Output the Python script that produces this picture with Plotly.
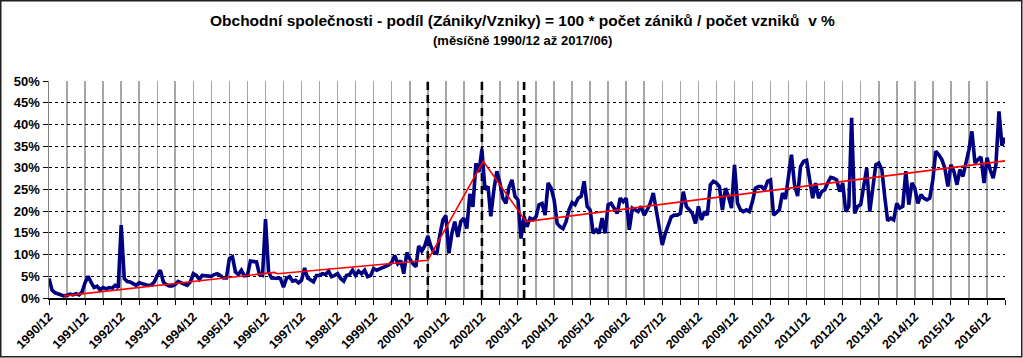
import pandas as pd
import plotly.graph_objects as go

# ---- data -------------------------------------------------------------
start_month = "1990-12-01"
n_months = 319  # 1990/12 .. 2017/06

podil = [
    4.5, 1.8, 1.2, 1.0, 0.9, 0.5, 0.6, 0.9, 0.7, 1.0, 0.7, 1.4,
    3.5, 5.0, 3.6, 2.4, 2.7, 1.9, 2.4, 2.1, 2.4, 2.3, 2.9, 2.4,
    16.8, 4.5, 3.8, 3.7, 3.3, 2.9, 3.5, 3.3, 3.0, 2.9, 3.0, 3.7,
    5.2, 6.4, 3.7, 3.1, 2.8, 2.8, 3.1, 3.8, 3.5, 3.1, 2.9, 3.7,
    5.6, 5.2, 4.3, 5.2, 5.2, 5.0, 5.0, 5.4, 5.6, 5.2, 4.6, 4.6,
    9.1, 9.5, 6.0, 5.4, 6.4, 5.1, 5.2, 8.5, 8.5, 8.3, 5.4, 5.2,
    18.2, 6.0, 4.6, 4.6, 4.5, 4.5, 2.5, 4.5, 4.9, 3.9, 4.1, 3.5,
    4.1, 6.9, 4.6, 4.1, 3.7, 5.2, 5.2, 5.6, 5.4, 6.2, 4.9, 5.2,
    5.6, 4.5, 3.9, 5.2, 5.4, 6.4, 5.2, 6.2, 5.6, 6.4, 4.9, 5.2,
    6.8, 6.4, 6.8, 7.0, 7.3, 7.6, 8.2, 9.8, 7.9, 8.6, 5.6, 10.5,
    9.0, 7.9, 7.2, 12.0, 10.8, 12.0, 14.3, 12.0, 10.5, 10.3, 14.5, 18.0,
    19.0, 10.3, 15.0, 17.6, 14.1, 17.6, 18.4, 16.0, 24.0, 21.0, 31.0, 29.0,
    34.2, 25.0, 25.7, 18.8, 24.9, 29.2, 26.5, 23.0, 21.8, 25.5, 27.2, 23.4,
    22.6, 13.7, 18.7, 16.4, 18.4, 18.0, 18.7, 21.5, 21.8, 19.1, 26.5, 25.3,
    22.6, 17.2, 16.4, 16.0, 17.6, 20.3, 22.0, 21.5, 23.0, 23.4, 26.9, 21.1,
    20.3, 14.9, 15.7, 14.9, 18.4, 14.9, 21.5, 21.8, 20.7, 19.5, 23.0, 22.2,
    23.0, 15.7, 20.7, 20.3, 19.9, 21.1, 19.1, 20.3, 21.8, 24.2, 20.3, 16.4,
    12.2, 14.9, 17.2, 18.7, 19.1, 19.1, 19.5, 24.5, 21.1, 20.3, 19.5, 17.2,
    21.1, 18.0, 19.9, 19.1, 26.1, 26.9, 26.5, 25.7, 20.3, 25.3, 23.4, 20.7,
    30.7, 21.8, 20.3, 19.9, 20.3, 19.9, 22.2, 25.3, 25.7, 25.7, 24.9, 26.9,
    27.2, 19.1, 19.7, 20.3, 24.2, 22.8, 28.0, 33.0, 26.1, 23.5, 30.3, 31.5,
    31.7, 27.2, 23.0, 26.5, 23.0, 24.5, 24.9, 26.5, 27.8, 27.6, 27.2, 24.5,
    26.5, 19.9, 21.1, 41.5, 19.5, 21.1, 21.5, 25.7, 29.9, 19.9, 25.7, 30.7,
    31.1, 29.6, 23.0, 17.8, 18.4, 18.0, 21.8, 20.7, 21.1, 29.2, 21.5, 26.5,
    25.3, 21.8, 23.8, 23.0, 22.6, 23.0, 27.2, 33.8, 33.0, 31.9, 29.9, 25.7,
    30.7, 29.2, 26.1, 29.6, 28.0, 31.1, 34.2, 38.4, 31.1, 31.9, 32.5, 26.5,
    32.3, 29.6, 27.6, 30.7, 43.0, 35.1, 36.9,
]

trend_dates = ["1991-05-01", "1997-03-01", "1997-04-01", "2001-06-01",
               "2002-12-15", "2004-02-20", "2017-06-01"]
trend_values = [0.5, 5.9, 5.6, 8.7, 31.5, 17.6, 31.6]

break_dates = ["2001-06-01", "2002-12-01", "2004-02-01"]

y_ticks = list(range(0, 51, 5))

title_text = ("Obchodní společnosti - podíl (Zániky/Vzniky) = 100 * počet zániků / "
              "počet vzniků&nbsp;&nbsp;v %")
subtitle_text = "(měsíčně 1990/12 až 2017/06)"

# ---- figure -----------------------------------------------------------
months = pd.date_range(start_month, periods=n_months, freq="MS")

W, H = 1023, 358
ML, MR, MT, MB = 49, 18, 81, 60
PW, PH = W - ML - MR, H - MT - MB

FONT = "Liberation Sans, Arial, sans-serif"

fig = go.Figure()
fig.add_trace(go.Scatter(
    x=months, y=podil, mode="lines",
    line=dict(color="#000080", width=3.6),
    hoverinfo="skip", showlegend=False,
))
fig.add_trace(go.Scatter(
    x=pd.to_datetime(trend_dates), y=trend_values, mode="lines",
    line=dict(color="#FF0000", width=1.6),
    hoverinfo="skip", showlegend=False,
))

for d in break_dates:
    fig.add_shape(type="line", xref="x", yref="y",
                  x0=d, x1=d, y0=0, y1=50, layer="between",
                  line=dict(color="black", width=2.6, dash="8px,5px"))

# outer border of the whole chart
fig.add_shape(type="rect", xref="paper", yref="paper",
              x0=(-ML + 0.75) / PW, x1=1 + (MR - 1.25) / PW,
              y0=(-MB + 1.25) / PH, y1=1 + (MT - 0.75) / PH,
              line=dict(color="#202020", width=1.5), layer="above")

fig.add_annotation(text=title_text, xref="paper", yref="paper",
                   x=(522 - ML) / PW, y=1 + (MT - 21) / PH,
                   showarrow=False, xanchor="center", yanchor="middle",
                   font=dict(family=FONT, size=15.5, color="black", weight="bold"))
fig.add_annotation(text=subtitle_text, xref="paper", yref="paper",
                   x=(522 - ML) / PW, y=1 + (MT - 40) / PH,
                   showarrow=False, xanchor="center", yanchor="middle",
                   font=dict(family=FONT, size=13, color="black", weight="bold"))

fig.update_layout(
    width=W, height=H,
    margin=dict(l=ML, r=MR, t=MT, b=MB, pad=0, autoexpand=False),
    paper_bgcolor="white", plot_bgcolor="white",
    font=dict(family=FONT, color="black"),
    xaxis=dict(
        type="date",
        range=[months[0], months[-1]],
        tick0=start_month, dtick="M12", tickformat="%Y/%m",
        tickangle=-45,
        tickfont=dict(family=FONT, size=12.5, color="black", weight="bold"),
        ticks="outside", ticklen=5, tickcolor="black", tickwidth=1,
        showgrid=True, gridcolor="#A6A6A6", gridwidth=1.5,
        minor=dict(tick0=start_month, dtick="M6", showgrid=True,
                   gridcolor="#A6A6A6", gridwidth=1.5,
                   ticks="outside", ticklen=5, tickcolor="black"),
        showline=True, linecolor="black", linewidth=1.5,
        zeroline=False, fixedrange=True,
    ),
    yaxis=dict(
        range=[0, 50], tickvals=y_ticks,
        ticktext=[f"{v}%" for v in y_ticks],
        tickfont=dict(family=FONT, size=13, color="black", weight="bold"),
        ticks="outside", ticklen=5, tickcolor="black",
        showgrid=True, gridcolor="black", gridwidth=1, griddash="dot",
        showline=True, linecolor="#808080", linewidth=1.5,
        zeroline=False, fixedrange=True,
    ),
)

fig.write_html(
    "out.html",
    config={"displayModeBar": False, "staticPlot": True},
    post_script="document.body.style.margin='0';document.body.style.padding='0';",
)
